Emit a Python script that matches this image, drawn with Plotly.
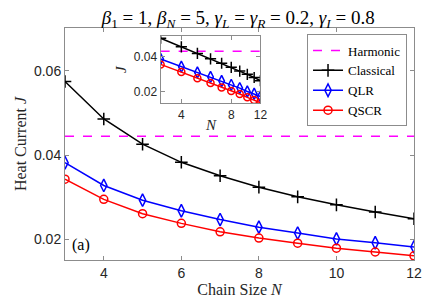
import plotly.graph_objects as go

N = [3, 4, 5, 6, 7, 8, 9, 10, 11, 12]
classical = [0.0575, 0.0486, 0.0426, 0.0383, 0.0351, 0.0324, 0.0301, 0.0282, 0.0265, 0.0249]
qlr = [0.0382, 0.0328, 0.0293, 0.0268, 0.0247, 0.0229, 0.0215, 0.0201, 0.0192, 0.0182]
qscr = [0.0343, 0.0295, 0.0261, 0.0238, 0.0218, 0.0203, 0.0191, 0.0179, 0.0170, 0.0161]
harmonic_value = 0.0445
harmonic = [harmonic_value] * len(N)

SERIF = "Liberation Serif, DejaVu Serif, serif"
SANS = "Liberation Sans, Arial, sans-serif"
AX = "#8c8c8c"
TXT = "#262626"

fig = go.Figure()

def add(xa, ya, show, msize, lw):
    fig.add_trace(go.Scatter(x=N, y=harmonic, mode="lines", name="Harmonic",
                             line=dict(color="#ff00ff", width=lw, dash="dash"),
                             xaxis=xa, yaxis=ya, showlegend=show))
    fig.add_trace(go.Scatter(x=N, y=classical, mode="lines+markers", name="Classical",
                             line=dict(color="black", width=lw),
                             marker=dict(symbol="cross-thin-open", size=msize + 1,
                                         line=dict(color="black", width=lw)),
                             xaxis=xa, yaxis=ya, showlegend=show))
    fig.add_trace(go.Scatter(x=N, y=qlr, mode="lines+markers", name="QLR",
                             line=dict(color="#0000ff", width=lw),
                             marker=dict(symbol="diamond-tall-open", size=msize + 1, color="#0000ff",
                                         line=dict(color="#0000ff", width=lw)),
                             xaxis=xa, yaxis=ya, showlegend=show))
    fig.add_trace(go.Scatter(x=N, y=qscr, mode="lines+markers", name="QSCR",
                             line=dict(color="#ff0000", width=lw),
                             marker=dict(symbol="circle-open", size=msize, color="#ff0000",
                                         line=dict(color="#ff0000", width=lw)),
                             xaxis=xa, yaxis=ya, showlegend=show))

add("x", "y", True, 8, 1.5)
add("x2", "y2", False, 7, 1.5)

axis_common = dict(showline=True, linecolor=AX, linewidth=1, mirror="ticks",
                   ticks="inside", tickcolor=AX, ticklen=4, showgrid=False, zeroline=False)

fig.update_layout(
    width=436, height=297,
    margin=dict(l=57, r=30, t=20, b=39),
    paper_bgcolor="white", plot_bgcolor="white",
    title=dict(text="<i>β</i><sub>1</sub> = 1, <i>β</i><sub><i>N</i></sub> = 5, "
                    "<i>γ</i><sub><i>L</i></sub> = <i>γ</i><sub><i>R</i></sub> = 0.2, "
                    "<i>γ</i><sub><i>I</i></sub> = 0.8",
               x=0.528, xanchor="center", y=0.99, yanchor="top",
               font=dict(family=SERIF, size=19, color="black")),
    xaxis=dict(range=[3, 12], tickvals=[4, 6, 8, 10, 12],
               tickfont=dict(family=SANS, size=14, color=TXT),
               title=dict(text="Chain Size <i>N</i>", font=dict(family=SERIF, size=16, color=TXT),
                          standoff=1),
               **axis_common),
    yaxis=dict(range=[0.0151, 0.0702], tickvals=[0.02, 0.04, 0.06],
               tickformat=".2f",
               tickfont=dict(family=SANS, size=14, color=TXT),
               title=dict(text="Heat Current <i>J</i>", font=dict(family=SERIF, size=16, color=TXT),
                          standoff=3),
               **axis_common),
    xaxis2=dict(type="log", domain=[0.274, 0.560], anchor="y2",
                range=[0.4771, 1.0792], tickvals=[4, 8, 12], ticktext=["4", "8", "12"],
                tickfont=dict(family=SANS, size=12, color=TXT),
                **axis_common),
    yaxis2=dict(type="log", domain=[0.676, 0.966], anchor="x2",
                range=[-1.797, -1.220], tickvals=[0.02, 0.04], ticktext=["0.02", "0.04"],
                tickfont=dict(family=SANS, size=12, color=TXT),
                title=dict(text="<i>J</i>", font=dict(family=SERIF, size=15, color=TXT),
                           standoff=3),
                **axis_common),
    legend=dict(x=0.98, xanchor="right", y=0.972, yanchor="top",
                bgcolor="white", bordercolor=AX, borderwidth=1,
                font=dict(family=SERIF, size=13, color="black"),
                tracegroupgap=0, itemwidth=30),
    showlegend=True,
)

fig.add_annotation(text="<i>N</i>", xref="paper", yref="paper", x=0.417, y=0.58,
                   xanchor="center", yanchor="middle", showarrow=False,
                   font=dict(family=SERIF, size=15, color=TXT))
fig.add_annotation(text="(a)", xref="paper", yref="paper", x=0.015, y=0.065,
                   xanchor="left", yanchor="middle", showarrow=False,
                   font=dict(family=SERIF, size=16, color="black"))

fig.write_html("out.html")
